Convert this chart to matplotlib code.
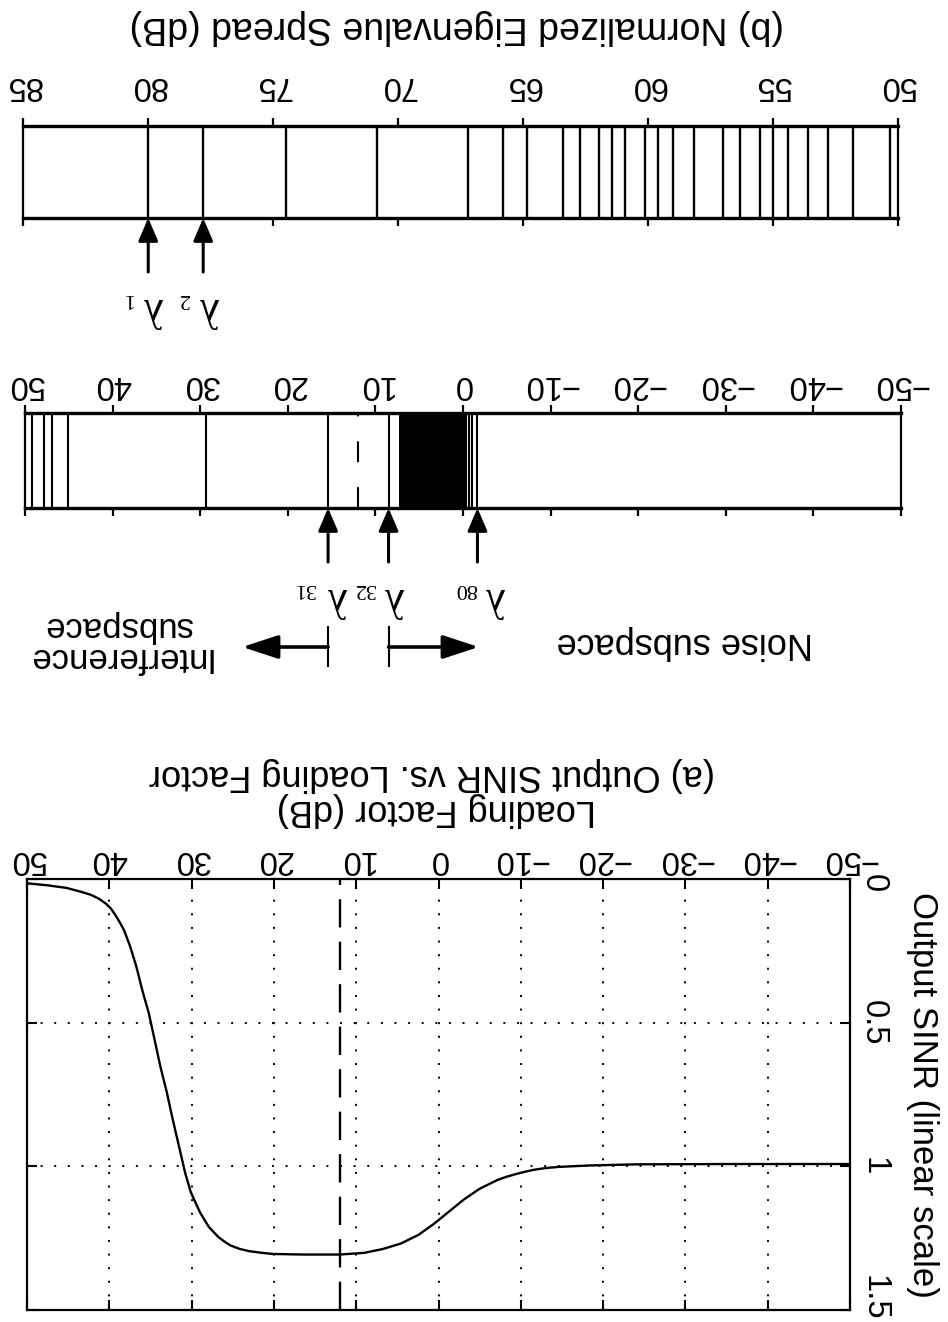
import matplotlib
matplotlib.use('Agg')
import matplotlib.pyplot as plt
from matplotlib.transforms import blended_transform_factory, IdentityTransform

plt.rcParams['font.family'] = ['Liberation Sans', 'DejaVu Sans']

# ---------------- data ----------------
spread_ticks = [85, 80, 75, 70, 65, 60, 55, 50]
spread_eig_db = [80.0, 77.8, 74.5, 70.85, 67.2, 65.8, 64.85, 63.4, 62.7, 61.95,
                 61.45, 60.9, 60.1, 59.6, 59.0, 58.15, 57.0, 56.3, 55.5, 55.0,
                 54.4, 53.6, 52.8, 51.8, 50.3]
eig_ticks = [50, 40, 30, 20, 10, 0, -10, -20, -30, -40, -50]
eig_db = [49.2, 47.8, 46.9, 45.1, 29.3, 15.4, 8.5, -0.7, -1.0, -1.65]
noise_band_db = [-0.45, 7.3]
loading_marker_db = 12.0
top_lambdas = ['1', '2']
top_lambda_db = [80.0, 77.8]
mid_lambdas = ['31', '32', '80']
mid_lambda_db = [15.4, 8.5, -1.65]
interference_arrow_end_db = 25.2
noise_arrow_end_db = -1.8

lf_db = [50.0, 47.5, 45.2, 43.5, 42.25, 41.3, 40.4, 39.8, 39.3, 38.7, 38.2,
         37.45, 36.7, 36.0, 35.2, 34.5, 33.8, 33.0, 32.3, 31.55, 30.8, 30.1,
         29.0, 28.4, 27.9, 26.75, 26.0, 25.3, 24.2, 23.05, 21.5, 20.1, 16.4,
         12.0, 9.0, 6.8, 4.6, 2.4, 0.55, -1.3, -3.1, -5.0, -7.2, -8.3, -9.4,
         -10.5, -11.6, -13.0, -14.6, -18.3, -24.2, -35.2, -50.0]
sinr = [0.015, 0.022, 0.031, 0.044, 0.055, 0.068, 0.086, 0.103, 0.124, 0.152,
        0.179, 0.236, 0.306, 0.386, 0.467, 0.559, 0.652, 0.744, 0.836, 0.928,
        1.021, 1.090, 1.159, 1.188, 1.211, 1.246, 1.262, 1.275, 1.287, 1.295,
        1.301, 1.305, 1.307, 1.307, 1.301, 1.288, 1.269, 1.238, 1.200, 1.157,
        1.115, 1.078, 1.047, 1.036, 1.027, 1.019, 1.012, 1.006, 1.002, 0.997,
        0.993, 0.992, 0.992]
sinr_ticks = [0, 0.5, 1, 1.5]
sinr_ticklabels = ['0', '0.5', '1', '1.5']

# ---------------- figure ----------------
W, H = 948, 1322
fig = plt.figure(figsize=(W / 100, H / 100), dpi=100)


def rect(x0, y0, x1, y1):
    return [x0 / W, 1 - y1 / H, (x1 - x0) / W, (y1 - y0) / H]


def lab(v):
    return str(v).replace('-', '\u2212')


def fpx(x, y):
    return (x / W, 1 - y / H)


ax_top = fig.add_axes(rect(23.3, 126, 897.7, 218))
ax_mid = fig.add_axes(rect(25, 413, 901, 508))
ax_bot = fig.add_axes(rect(27, 879, 850, 1310))

TICKFS = 23.5
TXTFS = 26


def strip(ax, ticks, pad):
    ax.set_xlim(ticks[0], ticks[-1])
    ax.set_ylim(0, 1)
    ax.set_xticks(ticks)
    ax.set_xticklabels([lab(t) for t in ticks])
    ax.set_yticks([])
    ax.tick_params(axis='x', direction='out', length=6, width=1.6,
                   top=True, bottom=True, labeltop=True, labelbottom=False,
                   labelrotation=180, labelsize=TICKFS, pad=pad)
    for s in ['top', 'bottom']:
        ax.spines[s].set_linewidth(2.4)
    for s in ['left', 'right']:
        ax.spines[s].set_linewidth(1.6)


strip(ax_top, spread_ticks, 12)
strip(ax_mid, eig_ticks, 3)

ax_top.vlines(spread_eig_db, 0, 1, color='black', lw=1.7)
ax_mid.vlines(eig_db, 0, 1, color='black', lw=1.5)
ax_mid.axvspan(noise_band_db[0], noise_band_db[1], color='black', lw=0)
ax_mid.axvline(loading_marker_db, color='black', lw=1.5, ls=(0, (10, 12)))

arrow_v = dict(arrowstyle='-|>,head_length=0.7,head_width=0.3', color='black',
               lw=2.2, mutation_scale=20, shrinkA=0, shrinkB=0)


def lambda_labels(ax, names, vals, gl_dx, sub_dx, arrow_len):
    tr = ax.get_xaxis_transform()
    for i, (n, v) in enumerate(zip(names, vals)):
        ax.annotate('', xy=(v, 0), xycoords=tr, xytext=(0, -arrow_len),
                    textcoords='offset pixels', arrowprops=arrow_v,
                    annotation_clip=False)
        ax.annotate('\u03bb', xy=(v, 0), xycoords=tr,
                    xytext=(gl_dx[i], -90), textcoords='offset pixels',
                    rotation=180, ha='center', va='center', fontsize=30,
                    family=['Liberation Serif', 'DejaVu Serif'],
                    annotation_clip=False)
        ax.annotate(n, xy=(v, 0), xycoords=tr,
                    xytext=(sub_dx[i], -80), textcoords='offset pixels',
                    rotation=180, ha='center', va='center', fontsize=16,
                    family=['Liberation Serif', 'DejaVu Serif'],
                    annotation_clip=False)


lambda_labels(ax_top, top_lambdas, top_lambda_db, [4, 5], [-21, -20], 54)
lambda_labels(ax_mid, mid_lambdas, mid_lambda_db, [8, 4, 16], [-24, -25, -11], 54)

# subspace markers
trm = blended_transform_factory(ax_mid.transData, IdentityTransform())
y_bar0, y_bar1, y_arr = H - 627, H - 666, H - 647
for v in mid_lambda_db[:2]:
    ax_mid.plot([v, v], [y_bar0, y_bar1], transform=trm, color='black',
                lw=1.5, clip_on=False)
arrow_h = dict(arrowstyle='-|>,head_length=1.1,head_width=0.36', color='black',
               lw=2.6, mutation_scale=20, shrinkA=0, shrinkB=0)
ax_mid.annotate('', xy=(interference_arrow_end_db, y_arr), xycoords=trm,
                xytext=(mid_lambda_db[0], y_arr), textcoords=trm,
                arrowprops=arrow_h, annotation_clip=False)
ax_mid.annotate('', xy=(noise_arrow_end_db, y_arr), xycoords=trm,
                xytext=(mid_lambda_db[1], y_arr), textcoords=trm,
                arrowprops=arrow_h, annotation_clip=False)
fig.text(*fpx(118, 642), 'Interference\nsubspace', rotation=180, ha='center',
         va='center', fontsize=25, linespacing=0.9)
fig.text(*fpx(685, 642), 'Noise subspace', rotation=180, ha='center',
         va='center', fontsize=TXTFS)

fig.text(*fpx(457, 27), '(b) Normalized Eigenvalue Spread (dB)', rotation=180,
         ha='center', va='center', fontsize=27)

# ---------------- bottom panel ----------------
ax_bot.plot(lf_db, sinr, color='black', lw=1.7)
ax_bot.set_xlim(50, -50)
ax_bot.set_ylim(1.5, 0)
ax_bot.set_xticks(eig_ticks)
ax_bot.set_xticklabels([lab(t) for t in eig_ticks])
ax_bot.set_yticks(sinr_ticks)
ax_bot.grid(True, color='black', lw=1.4, ls=(0, (1, 6)))
ax_bot.axvline(loading_marker_db, color='black', lw=1.7, ls=(0, (12, 6)))
ax_bot.tick_params(axis='x', direction='in', length=7, width=1.5, top=True,
                   bottom=True, labeltop=True, labelbottom=False,
                   labelrotation=180, labelsize=TICKFS, pad=3)
ax_bot.tick_params(axis='y', direction='in', length=7, width=1.5, left=True,
                   right=True, labelright=False, labelleft=False)
for s in ax_bot.spines.values():
    s.set_linewidth(1.6)

# y tick labels (rotated, placed through the axis' own y scale)
ytr = ax_bot.get_yaxis_transform()
y_label_shift = [-4, 0, 0, 12]
for v, t, dy in zip(sinr_ticks, sinr_ticklabels, y_label_shift):
    ax_bot.annotate(t, xy=(1, v), xycoords=ytr, xytext=(8, dy),
                    textcoords='offset pixels', rotation=270, ha='left',
                    va='center', fontsize=TICKFS, annotation_clip=False)

ax_bot.yaxis.set_label_position('right')
ax_bot.set_ylabel('Output SINR (linear scale)', rotation=270, fontsize=25,
                  labelpad=40, va='bottom')
fig.text(*fpx(436, 810), 'Loading Factor (dB)', rotation=180, ha='center',
         va='center', fontsize=TXTFS)
fig.text(*fpx(432, 775), '(a) Output SINR vs. Loading Factor', rotation=180,
         ha='center', va='center', fontsize=TXTFS)

fig.savefig('out.png', dpi=100)
